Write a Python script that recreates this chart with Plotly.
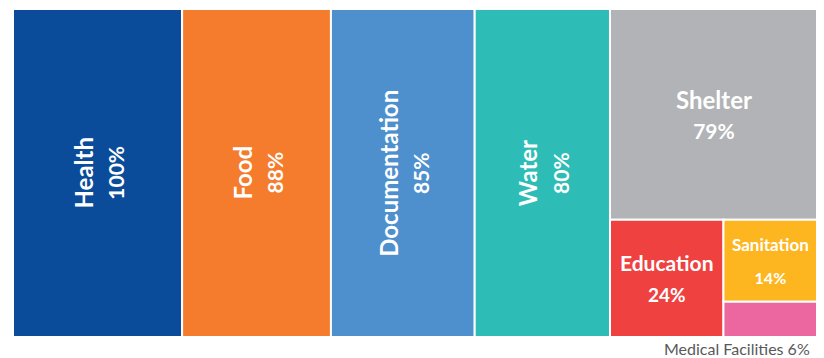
import plotly.graph_objects as go

# ---- data ----
categories = ["Health", "Food", "Documentation", "Water", "Shelter",
              "Education", "Sanitation", "Medical Facilities"]
values = [100, 88, 85, 80, 79, 24, 14, 6]
colors = ["#0A4C9A", "#F47C2C", "#4E90CD", "#2EBDB6", "#B1B3B6",
          "#EE4140", "#FDB620", "#EC679F"]

# tiling structure: nested groups, orientation alternates by depth
structure = ["Health", "Food", "Documentation", "Water",
             ["Shelter", ["Education", ["Sanitation", "Medical Facilities"]]]]

val = dict(zip(categories, values))
col = dict(zip(categories, colors))


def total(node):
    if isinstance(node, list):
        return sum(total(n) for n in node)
    return val[node]


rects = {}


def layout(node, x0, y0, x1, y1, horiz):
    if not isinstance(node, list):
        rects[node] = (x0, y0, x1, y1)
        return
    t = total(node)
    pos = x0 if horiz else y0
    for child in node:
        frac = total(child) / t
        if horiz:
            w = (x1 - x0) * frac
            layout(child, pos, y0, pos + w, y1, not horiz)
            pos += w
        else:
            h = (y1 - y0) * frac
            layout(child, x0, pos, x1, pos + h, not horiz)
            pos += h


TOTAL = total(structure)
layout(structure, 0, 0, TOTAL, 1, True)

# page body has an 8px margin, so the figure is sized to the remaining area
W, H = 816, 350
ml, mr, mt, mb = 5, 6, 1, 21
pxw = (W - ml - mr) / TOTAL
pxh = (H - mt - mb)

font_main = "Lato, 'Open Sans', sans-serif"
# (label size, percent size, base size controlling line spacing)
label_sizes = {"Health": (24, 21, 24), "Food": (24, 21, 24),
               "Documentation": (24, 21, 24), "Water": (24, 21, 24),
               "Shelter": (24, 21, 23), "Education": (21, 19, 24),
               "Sanitation": (17, 16, 25)}

fig = go.Figure()
shapes = []
annotations = []
for c in categories:
    x0, y0, x1, y1 = rects[c]
    shapes.append(dict(type="rect", xref="x", yref="y", x0=x0, x1=x1, y0=y0, y1=y1,
                       fillcolor=col[c], line=dict(color="white", width=2), layer="below"))
    wpx = (x1 - x0) * pxw
    hpx = (y1 - y0) * pxh
    if c in label_sizes:
        s1, s2, base = label_sizes[c]
        txt = (f"<b><span style='font-size:{s1}px'>{c}</span><br>"
               f"<span style='font-size:{s2}px'>{val[c]}%</span></b>")
        rot = -90 if hpx > 1.3 * wpx else 0
        annotations.append(dict(x=(x0 + x1) / 2, y=(y0 + y1) / 2, xref="x", yref="y",
                                text=txt, showarrow=False, textangle=rot,
                                font=dict(family=font_main, color="white", size=base)))
    else:
        annotations.append(dict(x=x1, y=y1, xref="x", yref="y", xanchor="right",
                                yanchor="top", yshift=0, xshift=-6,
                                text=f"{c} {val[c]}%", showarrow=False,
                                font=dict(family=font_main, color="#595959", size=16)))

# invisible trace to anchor the axes
fig.add_trace(go.Scatter(x=[0, TOTAL], y=[0, 1], mode="markers",
                         marker=dict(opacity=0), hoverinfo="skip", showlegend=False))

fig.update_layout(
    width=W, height=H,
    margin=dict(l=ml, r=mr, t=mt, b=mb),
    paper_bgcolor="white", plot_bgcolor="white",
    shapes=shapes, annotations=annotations,
    xaxis=dict(range=[0, TOTAL], visible=False, fixedrange=True),
    yaxis=dict(range=[1, 0], visible=False, fixedrange=True),
    showlegend=False,
)

fig.write_html("out.html")
